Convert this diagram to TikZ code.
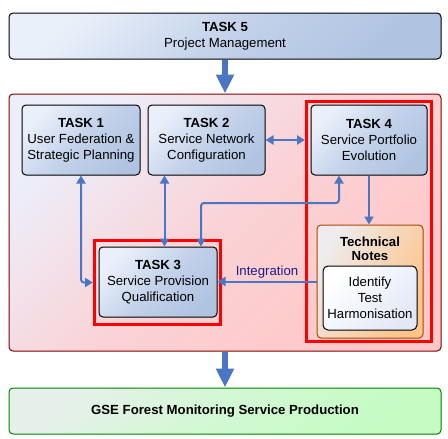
\documentclass[tikz,border=0pt]{standalone}
\usepackage{fontspec}
\setmainfont{Liberation Sans}
\usetikzlibrary{arrows.meta}

\definecolor{linkBlue}{RGB}{74,118,196}
\definecolor{taskLight}{RGB}{234,240,250}
\definecolor{taskMid}{RGB}{196,210,234}
\definecolor{taskDark}{RGB}{176,196,226}
\definecolor{wpLight}{RGB}{236,238,250}
\definecolor{wpMid}{RGB}{250,210,214}
\definecolor{wpDark}{RGB}{255,200,200}
\definecolor{noteLight}{RGB}{238,236,238}
\definecolor{noteMid}{RGB}{246,214,184}
\definecolor{noteDark}{RGB}{252,196,136}
\definecolor{prodLight}{RGB}{230,240,234}
\definecolor{prodMid}{RGB}{210,248,210}
\definecolor{prodDark}{RGB}{196,252,196}
\definecolor{labelNavy}{RGB}{28,28,140}

\begin{document}
\begin{tikzpicture}[x=1pt, y=-1pt,
    textFont/.style={font=\fontsize{13.2}{16}\selectfont},
    taskStyle/.style={draw=black, line width=1pt, rounded corners=4pt, minimum width=118pt, minimum height=70pt,
        inner sep=0pt, align=center, textFont, left color=taskLight, right color=taskDark,
        middle color=taskMid, shading angle=45},
    wideStyle/.style={taskStyle, minimum width=432pt, minimum height=46pt},
    wpStyle/.style={draw={rgb,255:red,128;green,0;blue,0}, line width=1pt, rounded corners=4pt, minimum width=432pt,
        minimum height=257pt, left color=wpLight, right color=wpDark, middle color=wpMid, shading angle=45},
    frameStyle/.style={draw=red, line width=3pt, inner sep=0pt},
    noteStyle/.style={draw={rgb,255:red,170;green,70;blue,0}, line width=1pt, rounded corners=4pt, minimum width=106pt,
        minimum height=113pt, left color=noteLight, right color=noteDark, middle color=noteMid, shading angle=60},
    stepStyle/.style={draw=black, line width=1pt, rounded corners=5pt, minimum width=94pt, minimum height=64pt,
        inner sep=0pt, align=center, textFont, left color=white,
        right color={rgb,255:red,226;green,232;blue,246}, shading angle=45},
    link/.style={draw=linkBlue, line width=2pt, rounded corners=3pt,
        {Triangle[length=8pt,width=9pt]}-{Triangle[length=8pt,width=9pt]}},
    oneway/.style={draw=linkBlue, line width=2pt, -{Triangle[length=8pt,width=9pt]}},
    bigArrow/.style={draw=linkBlue, line width=6pt, -{Triangle[length=19pt,width=17pt]}}]

    % background blocks
    \useasboundingbox (0,0) rectangle (448,439);
    \node[wpStyle] (wp) at (225,222.5) {};
    \node[frameStyle, minimum width=126pt, minimum height=84pt] (frame3) at (157.5,282.5) {};
    \node[frameStyle, minimum width=125pt, minimum height=240pt] (frame4) at (369,221.5) {};

    % tasks
    \node[wideStyle] (t5) at (225,36) {\textbf{TASK 5}\\Project Management};
    \node[taskStyle] (t1) at (81,140) {\textbf{TASK 1}\\User Federation \&\\Strategic Planning};
    \node[taskStyle, minimum width=117pt] (t2) at (206.5,140) {\textbf{TASK 2}\\Service Network\\Configuration};
    \node[taskStyle, minimum width=116pt] (t4) at (369,140) {\textbf{TASK 4}\\Service Portfolio\\Evolution};
    \node[taskStyle] (t3) at (158,282) {\textbf{TASK 3}\\Service Provision\\Qualification};
    \node[noteStyle] (tech) at (370,281.5) {};
    \node[font=\fontsize{13.2}{14.5}\selectfont\bfseries, align=center] (techTitle) at (370,249) {Technical\\Notes};
    \node[stepStyle] (steps) at (370,298) {Identify\\Test\\Harmonisation};
    \node[wideStyle, draw={rgb,255:red,0;green,128;blue,0}, left color=prodLight, right color=prodDark,
        middle color=prodMid, shading angle=45]
        (prod) at (225,411) {\textbf{GSE Forest Monitoring Service Production}};

    % connectors
    \coordinate (bend) at (201,203);
    \draw[bigArrow] (t5.south) -- (wp.north);
    \draw[bigArrow] (wp.south) -- (prod.north);
    \draw[link] (t1.south) |- (frame3.west);
    \draw[link] ([xshift=-42pt]t2.south) -- ([xshift=-42pt]t2.south |- t3.north);
    \draw[link] (t2.east) -- (t2.east -| frame4.west);
    \draw[link] ([xshift=-30pt]t4.south) |- (bend) -- (bend |- t3.north);
    \draw[oneway] (t4.south) -- (t4.south |- tech.north);
    \draw[oneway] (tech.west) -- (tech.west -| t3.east)
        node[midway, above=-1pt, textFont, text=labelNavy] {Integration};
\end{tikzpicture}
\end{document}
